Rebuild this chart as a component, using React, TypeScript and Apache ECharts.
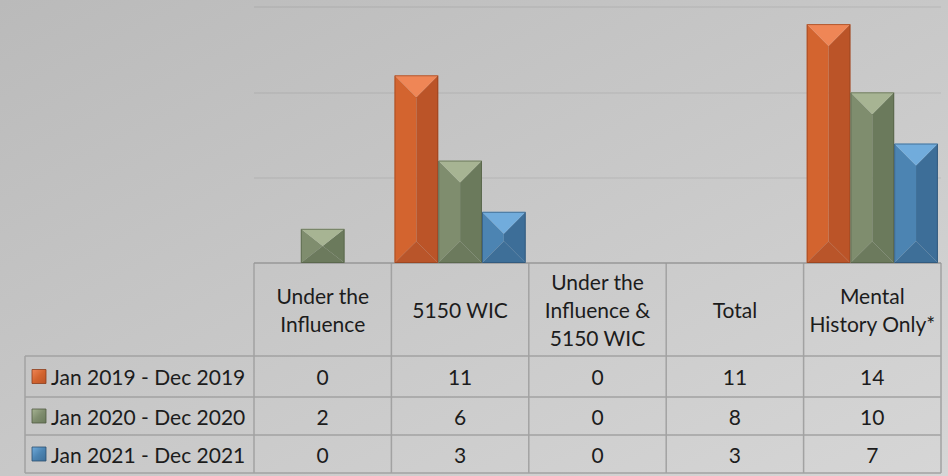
import React, { useEffect, useRef } from "react";
import * as echarts from "echarts";

const categories = ["Under the\nInfluence", "5150 WIC", "Under the\nInfluence &\n5150 WIC", "Total", "Mental\nHistory Only*"];
const seriesNames = ["Jan 2019 - Dec 2019", "Jan 2020 - Dec 2020", "Jan 2021 - Dec 2021"];
const values2019 = [0, 11, 0, 11, 14];
const values2020 = [2, 6, 0, 8, 10];
const values2021 = [0, 3, 0, 3, 7];
// In the reference the "Total" column is listed in the table but has no bars.
const categoriesWithoutBars = ["Total"];
const yTicks = [0, 5, 10, 15];

const allValues = [values2019, values2020, values2021];

const palettes = [
  { top: "#ef8656", left: "#d3642f", right: "#bb5428", bottom: "#b9552a", edge: "#8c3d1c" },
  { top: "#a7b493", left: "#7f8d6e", right: "#6b7a5c", bottom: "#6c7a5d", edge: "#505b43" },
  { top: "#71acdc", left: "#4c84b2", right: "#3d6e98", bottom: "#3e6f98", edge: "#2c4f6e" },
];

const FONT = "Lato, 'Noto Sans', sans-serif";
const W = 948;
const H = 476;
const GRID_LEFT = 254;
const GRID_RIGHT = 7;
const GRID_TOP = 7;
const GRID_BOTTOM = 213;
const GROUP_FRACTION = 0.955;
const TEXT_COLOR = "#1c1c1c";

function makeRenderItem(seriesIdx: number) {
  return (params: any, api: any) => {
    const cat = api.value(0);
    const val = api.value(1);
    if (val == null || isNaN(val) || val <= 0) return null;
    const base = api.coord([cat, 0]);
    const top = api.coord([cat, val]);
    const band = api.size([1, 0])[0];
    const groupW = band * GROUP_FRACTION;
    const bw = groupW / 3;
    const x0 = base[0] - groupW / 2 + seriesIdx * bw;
    const x1 = x0 + bw;
    const y0 = top[1];
    const y1 = base[1];
    const h = y1 - y0;
    const d = Math.min(bw / 2, h / 2);
    const cx = (x0 + x1) / 2;
    const p = palettes[seriesIdx];
    return {
      type: "group",
      children: [
        { type: "polygon", shape: { points: [[x0, y0], [cx, y0 + d], [cx, y1 - d], [x0, y1]] }, style: { fill: p.left } },
        { type: "polygon", shape: { points: [[x1, y0], [x1, y1], [cx, y1 - d], [cx, y0 + d]] }, style: { fill: p.right } },
        { type: "polygon", shape: { points: [[x0, y1], [cx, y1 - d], [x1, y1]] }, style: { fill: p.bottom } },
        { type: "polygon", shape: { points: [[x0, y0], [x1, y0], [cx, y0 + d]] }, style: { fill: p.top } },
        { type: "rect", shape: { x: x0 + 0.5, y: y0 + 0.5, width: bw - 1, height: h - 1 }, style: { fill: "none", stroke: p.edge, lineWidth: 1, opacity: 0.6 } },
      ],
    };
  };
}

export default function App() {
  const ref = useRef<HTMLDivElement>(null);
  useEffect(() => {
    if (!ref.current) return;
    const chart = echarts.init(ref.current, null, { renderer: "svg", width: W, height: H });

    const plotW = W - GRID_LEFT - GRID_RIGHT;
    const colW = plotW / categories.length;
    const tableTop = H - GRID_BOTTOM;
    const headerBottom = 356;
    const rowEdges = [356, 397, 435, 473];
    const rowHeaderLeft = 25;
    const lineStyle = { stroke: "#a2a2a2", lineWidth: 1.5 };

    const graphics: any[] = [];
    graphics.push({ type: "line", shape: { x1: GRID_LEFT, y1: tableTop, x2: W - GRID_RIGHT, y2: tableTop }, style: lineStyle });
    rowEdges.forEach((y) => {
      graphics.push({ type: "line", shape: { x1: rowHeaderLeft, y1: y, x2: W - GRID_RIGHT, y2: y }, style: lineStyle });
    });
    graphics.push({ type: "line", shape: { x1: rowHeaderLeft, y1: headerBottom, x2: rowHeaderLeft, y2: rowEdges[3] }, style: lineStyle });
    for (let i = 0; i <= categories.length; i++) {
      const x = GRID_LEFT + i * colW;
      graphics.push({ type: "line", shape: { x1: x, y1: tableTop, x2: x, y2: rowEdges[3] }, style: lineStyle });
    }
    allValues.forEach((vals, r) => {
      const cy = (rowEdges[r] + rowEdges[r + 1]) / 2;
      const p = palettes[r];
      graphics.push({
        type: "rect",
        shape: { x: 32, y: cy - 7, width: 14, height: 14 },
        style: {
          fill: { type: "linear", x: 0, y: 0, x2: 1, y2: 1, colorStops: [{ offset: 0, color: p.top }, { offset: 0.5, color: p.left }, { offset: 1, color: p.right }] },
          stroke: p.edge,
          lineWidth: 0.8,
        },
      });
      graphics.push({
        type: "text",
        x: 51,
        y: cy,
        style: { text: seriesNames[r], font: `21px ${FONT}`, fill: TEXT_COLOR, textAlign: "left", textVerticalAlign: "middle" },
      });
      vals.forEach((v, c) => {
        graphics.push({
          type: "text",
          x: GRID_LEFT + (c + 0.5) * colW,
          y: cy,
          style: { text: String(v), font: `21px ${FONT}`, fill: TEXT_COLOR, textAlign: "center", textVerticalAlign: "middle" },
        });
      });
    });

    const series = allValues.map((vals, s) => ({
      type: "custom",
      name: seriesNames[s],
      renderItem: makeRenderItem(s),
      encode: { x: 0, y: 1 },
      data: vals.map((v, i) => [i, categoriesWithoutBars.includes(categories[i]) ? "-" : v]),
      clip: false,
    }));

    chart.setOption({
      animation: false,
      grid: { left: GRID_LEFT, right: GRID_RIGHT, top: GRID_TOP, bottom: GRID_BOTTOM, containLabel: false },
      xAxis: {
        type: "category",
        data: categories,
        axisLine: { show: false },
        axisTick: { show: false },
        axisLabel: {
          interval: 0,
          margin: (headerBottom - tableTop) / 2,
          verticalAlign: "middle",
          align: "center",
          fontFamily: FONT,
          fontSize: 21,
          lineHeight: 28,
          color: TEXT_COLOR,
        },
      },
      yAxis: {
        type: "value",
        min: yTicks[0],
        max: yTicks[yTicks.length - 1],
        interval: yTicks[1] - yTicks[0],
        axisLabel: { show: false },
        axisLine: { show: false },
        axisTick: { show: false },
        splitLine: { lineStyle: { color: "rgba(0,0,0,0.06)", width: 1.5 } },
      },
      series,
      graphic: graphics,
    });
    return () => chart.dispose();
  }, []);
  return (
    <div
      ref={ref}
      style={{
        position: "absolute",
        left: 0,
        top: 0,
        width: W,
        height: H,
        background: "linear-gradient(to bottom right, #bababa, #d6d6d6)",
      }}
    />
  );
}
